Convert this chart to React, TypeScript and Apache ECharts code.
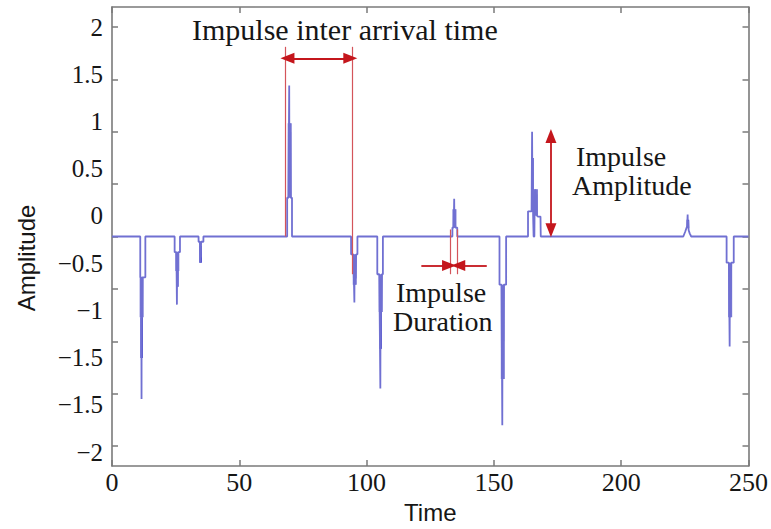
import React, { useEffect, useRef } from 'react';
import * as echarts from 'echarts';

// Tick values (mark positions) and the tick labels printed on the y axis
const yTickValues = [-2, -1.5, -1, -0.5, 0, 0.5, 1, 1.5, 2];
const yTickLabels = ['2', '1.5', '1', '0.5', '0', '\u22120.5', '\u22121', '\u22121.5', '\u22121.5', '\u22122'];

// Impulses: [time, amplitude]
const impulse1 = [[11.1, 0], [11.1, -0.39], [11.5, -0.39], [11.6, -1.55], [11.65, -0.4], [11.7, -1.16], [11.75, -0.45], [11.8, -0.77], [11.9, -0.39], [13.1, -0.39], [13.1, 0]];
const impulse2 = [[24.6, 0], [24.6, -0.15], [25.3, -0.15], [25.5, -0.65], [25.6, -0.2], [25.7, -0.48], [25.8, -0.3], [25.9, -0.15], [26.7, -0.15], [26.7, 0]];
const impulse3 = [[34.0, 0], [34.0, -0.05], [34.5, -0.05], [34.7, -0.25], [34.8, -0.08], [34.9, -0.2], [35.0, -0.05], [35.9, -0.05], [35.9, 0]];
const impulse4 = [[68.8, 0], [68.8, 0.37], [69.3, 0.37], [69.6, 1.44], [69.7, 0.4], [69.8, 1.08], [69.9, 0.45], [70.0, 1.0], [70.2, 0.37], [70.7, 0.37], [70.7, 0]];
const impulse5 = [[93.9, 0], [93.9, -0.17], [94.8, -0.17], [95.2, -0.63], [95.3, -0.2], [95.4, -0.46], [95.6, -0.2], [95.7, -0.4], [95.9, -0.17], [96.4, -0.17], [96.4, 0]];
const impulse6 = [[104.2, 0], [104.2, -0.36], [105.0, -0.36], [105.4, -1.45], [105.5, -0.4], [105.6, -1.07], [105.7, -0.5], [105.8, -0.72], [106.0, -0.36], [106.4, -0.36], [106.4, 0]];
const impulse7 = [[133.7, 0], [133.7, 0.085], [134.2, 0.085], [134.4, 0.36], [134.5, 0.1], [134.6, 0.26], [134.8, 0.085], [135.6, 0.085], [135.6, 0]];
const impulse8 = [[152.2, 0], [152.2, -0.46], [153.0, -0.46], [153.3, -1.8], [153.4, -0.5], [153.5, -1.36], [153.6, -0.6], [153.7, -1.0], [153.9, -0.46], [154.8, -0.46], [154.8, 0]];
const impulse9 = [[163.4, 0], [163.4, 0.24], [164.8, 0.24], [165.0, 1.0], [165.15, 0.3], [165.25, 0.75], [165.4, 0.2], [165.6, 0], [165.9, 0], [166.0, 0.3], [166.3, 0.45], [166.5, 0.2], [166.7, 0.4], [166.9, 0.2], [167.3, 0.19], [168.3, 0.19], [168.4, 0]];
const impulse10 = [[224.4, 0], [225.2, 0.05], [225.9, 0.1], [226.1, 0.21], [226.2, 0.08], [226.3, 0.15], [226.5, 0.06], [226.9, 0.03], [227.5, 0]];
const impulse11 = [[241.4, 0], [241.4, -0.25], [242.3, -0.25], [242.6, -1.05], [242.7, -0.3], [242.8, -0.77], [242.9, -0.4], [243.0, -0.6], [243.2, -0.25], [244.2, -0.25], [244.2, 0]];

const signal = [
  [0, 0],
  ...impulse1, ...impulse2, ...impulse3, ...impulse4, ...impulse5, ...impulse6,
  ...impulse7, ...impulse8, ...impulse9, ...impulse10, ...impulse11,
  [250, 0],
];

// Dense oscillation bands inside impulses: [time, from, to]
const lightBands = [
  [11.65, -0.39, -0.77], [25.65, -0.15, -0.33], [69.8, 0.37, 1.08], [95.35, -0.17, -0.46],
  [105.55, -0.36, -0.72], [134.5, 0.085, 0.26], [153.5, -0.46, -1.36], [166.5, 0.2, 0.45],
  [242.8, -0.25, -0.77],
];
const darkBands = [
  [11.65, -0.77, -1.16], [25.65, -0.33, -0.48], [34.8, -0.09, -0.25], [105.55, -0.72, -1.07],
  [165.1, 0.24, 0.75], [226.2, 0.08, 0.16],
];

// Annotation marks in data coordinates
const interArrivalLines = [
  [[68.1, 1.81], [68.1, 0]],
  [[94.3, 1.81], [94.3, -0.36]],
];
const interArrivalArrow = [[68.9, 1.7], [93.6, 1.7]];
const durationLines = [
  [[132.9, 0.067], [132.9, -0.36]],
  [[135.5, 0.067], [135.5, -0.36]],
];
const durationArrows = [
  [[121.5, -0.276], [132.4, -0.276]],
  [[147.2, -0.276], [136.0, -0.276]],
];
const amplitudeArrow = [[172.4, 0.96], [172.4, 0.06]];

const axisColor = '#7a7a7a';
const serif = '"Liberation Serif", "Times New Roman", serif';
const sans = '"Liberation Sans", Arial, sans-serif';
const textColor = '#161616';
const redLine = '#d4545a';
const redArrow = '#c4161c';

function bandData(bands: number[][]) {
  const out: any[] = [];
  bands.forEach((b) => {
    out.push([b[0], b[1]], [b[0], b[2]], [b[0], '-']);
  });
  return out;
}

function buildOption() {
  const yMin = -2.19;
  const yMax = 2.19;
  const markData: any[] = [];
  interArrivalLines.concat(durationLines).forEach((seg) => {
    markData.push([
      { coord: seg[0], symbol: 'none', lineStyle: { color: redLine, width: 1.2, type: 'solid' } },
      { coord: seg[1], symbol: 'none' },
    ]);
  });
  markData.push([
    { coord: interArrivalArrow[0], symbol: 'triangle', lineStyle: { color: redArrow, width: 1.8, type: 'solid' } },
    { coord: interArrivalArrow[1], symbol: 'triangle' },
  ]);
  durationArrows.forEach((seg) => {
    markData.push([
      { coord: seg[0], symbol: 'none', lineStyle: { color: redArrow, width: 1.8, type: 'solid' } },
      { coord: seg[1], symbol: 'triangle' },
    ]);
  });
  markData.push([
    { coord: amplitudeArrow[0], symbol: 'triangle', lineStyle: { color: redArrow, width: 1.8, type: 'solid' } },
    { coord: amplitudeArrow[1], symbol: 'triangle' },
  ]);

  const frameAxis = {
    axisLine: { onZero: false, lineStyle: { color: axisColor, width: 1.6 } },
    axisTick: { inside: true, length: 6, lineStyle: { color: axisColor, width: 1.5 } },
    splitLine: { show: false },
  };

  const annot = (text: string, x: number, y: number) => ({
    type: 'text', x, y,
    style: { text, font: `28px ${serif}`, fill: textColor, align: 'left', verticalAlign: 'middle' },
  });

  return {
    animation: false,
    backgroundColor: '#ffffff',
    grid: [
      { left: 112, right: 13, top: 7, bottom: 62 },
      { left: 112, right: 13, top: 27, bottom: 77 },
    ],
    xAxis: [
      {
        ...frameAxis,
        gridIndex: 0, type: 'value', min: 0, max: 250, interval: 50, position: 'bottom',
        axisLabel: { fontFamily: serif, fontSize: 26, color: textColor, margin: 3 },
        name: 'Time', nameLocation: 'middle', nameGap: 34,
        nameTextStyle: { fontFamily: sans, fontSize: 24, color: textColor },
      },
      {
        ...frameAxis,
        gridIndex: 0, type: 'value', min: 0, max: 250, interval: 50, position: 'top',
        axisLabel: { show: false },
      },
      { gridIndex: 1, type: 'value', min: 0, max: 1, show: false },
    ],
    yAxis: [
      {
        ...frameAxis,
        gridIndex: 0, type: 'value', min: yMin, max: yMax, position: 'left',
        axisTick: { ...frameAxis.axisTick, customValues: yTickValues },
        axisLabel: { show: false },
      },
      {
        ...frameAxis,
        gridIndex: 0, type: 'value', min: yMin, max: yMax, position: 'right',
        axisTick: { ...frameAxis.axisTick, customValues: yTickValues },
        axisLabel: { show: false },
      },
      {
        gridIndex: 1, type: 'category', boundaryGap: false,
        data: yTickLabels.slice().reverse(),
        axisLine: { show: false }, axisTick: { show: false }, splitLine: { show: false },
        axisLabel: { fontFamily: serif, fontSize: 25, color: textColor, margin: 9 },
      },
    ],
    graphic: [
      { type: 'text', x: 192, y: 29, style: { text: 'Impulse inter arrival time', font: `30px ${serif}`, fill: textColor, align: 'left', verticalAlign: 'middle' } },
      annot('Impulse', 396, 292),
      annot('Duration', 393, 321),
      annot('Impulse', 576, 156),
      annot('Amplitude', 572, 185),
      { type: 'text', x: 26, y: 258, rotation: Math.PI / 2, style: { text: 'Amplitude', font: `24px ${sans}`, fill: textColor, align: 'center', verticalAlign: 'middle' } },
    ],
    series: [
      {
        type: 'line',
        xAxisIndex: 0, yAxisIndex: 0,
        data: bandData(lightBands),
        symbol: 'none',
        connectNulls: false,
        lineStyle: { color: '#7676d4', width: 4, cap: 'butt' },
        z: 2,
      },
      {
        type: 'line',
        xAxisIndex: 0, yAxisIndex: 0,
        data: bandData(darkBands),
        symbol: 'none',
        connectNulls: false,
        lineStyle: { color: '#3a3acc', width: 2.6, cap: 'butt' },
        z: 3,
      },
      {
        type: 'line',
        xAxisIndex: 0, yAxisIndex: 0,
        data: signal,
        symbol: 'none',
        lineStyle: { color: '#7070d2', width: 1.8 },
        z: 4,
        markLine: {
          silent: true,
          symbolSize: [11, 14],
          label: { show: false },
          emphasis: { disabled: true },
          data: markData,
        },
      },
    ],
  };
}

export default function App() {
  const ref = useRef<HTMLDivElement>(null);
  useEffect(() => {
    const chart = echarts.init(ref.current as HTMLDivElement, null, { renderer: 'svg' });
    chart.setOption(buildOption() as any);
    return () => chart.dispose();
  }, []);
  return (
    <div
      ref={ref}
      style={{ position: 'fixed', left: 0, top: 0, width: 771, height: 529, background: '#ffffff' }}
    />
  );
}
